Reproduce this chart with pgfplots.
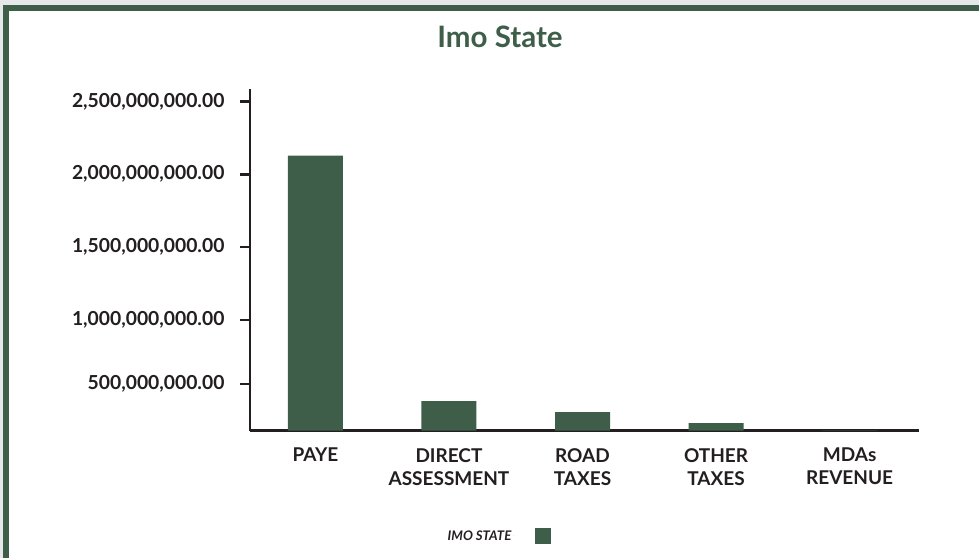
\documentclass[border=0pt]{standalone}
\usepackage{pgfplots}
\pgfplotsset{compat=1.18}
\usepackage{fontspec}
\setmainfont{Lato}
\definecolor{imogreen}{RGB}{62,94,74}
\definecolor{framegray}{RGB}{230,231,232}
\definecolor{ink}{RGB}{35,31,32}
\begin{document}
\begin{tikzpicture}[x=1pt,y=1pt]
\useasboundingbox (0,0) rectangle (979,558);
\fill[white] (0,0) rectangle (979,558);
\fill[framegray] (0,553) rectangle (979,558);
\fill[framegray] (0,0) rectangle (3,558);
\fill[imogreen] (3,547) rectangle (979,553);
\fill[imogreen] (3,0) rectangle (9,553);
\node[font=\fontsize{29.5}{34}\selectfont\bfseries, text=imogreen] at (500,521) {Imo State};
\begin{axis}[
  at={(250pt,127.3pt)}, anchor=south west,
  scale only axis,
  width=669pt, height=341.7pt,
  ybar, bar width=55pt,
  xmin=-0.49, xmax=4.52,
  ymin=239500000, ymax=2585000000,
  axis x line*=bottom, axis y line*=left,
  axis line style={ink, line width=2.6pt, -},
  xtick=data,
  xticklabels={PAYE, DIRECT\\ASSESSMENT, ROAD\\TAXES, OTHER\\TAXES, MDAs\\REVENUE},
  x tick label style={font=\fontsize{19}{23}\selectfont\bfseries, text=ink, align=center, anchor=north, yshift=-4pt},
  major x tick style={draw=none},
  ytick={560000000,1000000000,1500000000,2000000000,2500000000},
  yticklabels={{500,000,000.00}, {1,000,000,000.00}, {1,500,000,000.00}, {2,000,000,000.00}, {2,500,000,000.00}},
  y tick label style={font=\fontsize{19.3}{22}\selectfont\bfseries, text=ink, xshift=-12pt},
  tick align=outside,
  major tick length=10pt,
  major y tick style={ink, line width=2.8pt},
  scaled y ticks=false,
  clip=true,
  legend plot pos=right,
  legend style={draw=none, fill=none, at={(0.3715,-0.308)}, anchor=center, font=\fontsize{13.2}{15}\selectfont\bfseries\itshape, text=ink, /tikz/every even column/.append style={column sep=0pt}},
  legend image code/.code={\path (0pt,0pt) -- (1pt,0pt); \fill[imogreen] (22pt,-8pt) rectangle (38pt,8pt);},
]
\addplot[fill=imogreen, draw=none] coordinates {(0,2127000000) (1,443000000) (2,367000000) (3,292000000) (4,0)};
\addlegendentry{IMO STATE}
\end{axis}
\end{tikzpicture}
\end{document}
